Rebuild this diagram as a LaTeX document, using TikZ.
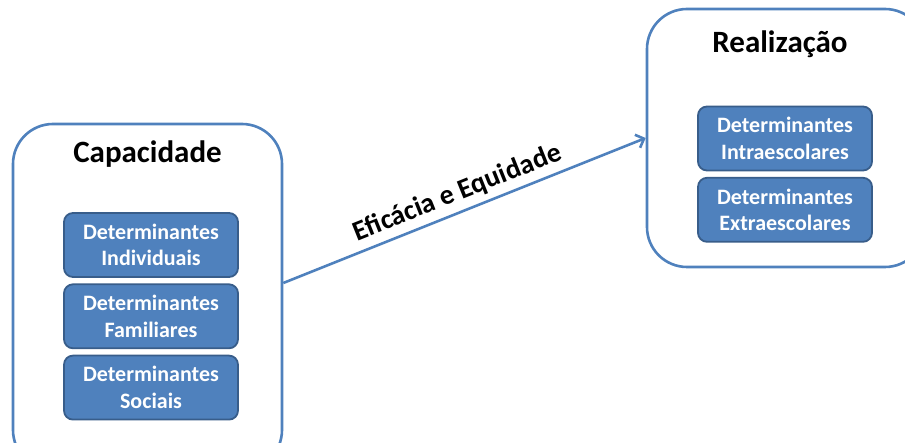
\documentclass[tikz,border=0pt]{standalone}
\usepackage{fontspec}
\setmainfont{Carlito}
\usetikzlibrary{arrows.meta,positioning}
\definecolor{accent}{HTML}{4F81BD}
\definecolor{accentdark}{HTML}{385D8A}

\begin{document}
\begin{tikzpicture}[x=1pt,y=-1pt,>={Straight Barb[length=7pt,width=14pt]},
  frame/.style={draw=accent,line width=2.6pt,rounded corners=40pt,fill=white},
  factor/.style={draw=accentdark,line width=1.8pt,fill=accent,
    rounded corners=9pt,minimum width=174pt,minimum height=64pt,
    inner sep=0pt,text=white,align=center,
    font=\fontsize{22}{26.5}\selectfont\bfseries},
  title/.style={font=\fontsize{31}{36}\selectfont\bfseries}]
  \useasboundingbox (0,0) rectangle (905,443);

  % left block
  \node[frame,minimum width=269pt,minimum height=346pt] (cap) at (147.5,297) {};
  \node[title,anchor=base] (captitle) at (147.5,163) {Capacidade};
  \node[factor] (indiv) at (151,245) {Determinantes\\Individuais};
  \node[factor,below=5.5pt of indiv] (famil) {Determinantes\\Familiares};
  \node[factor,below=5.5pt of famil] (social) {Determinantes\\Sociais};

  % right block
  \node[frame,minimum width=278pt,minimum height=258pt] (real) at (786,138) {};
  \node[title,anchor=base] (realtitle) at (780,53) {Realização};
  \node[factor] (intra) at (785,138.5) {Determinantes\\Intraescolares};
  \node[factor,below=5.5pt of intra] (extra) {Determinantes\\Extraescolares};

  \draw[->,accent,line width=2.6pt] ([yshift=14pt]cap.east) --
    node[sloped,above=2pt,pos=0.5,text=black,
      font=\fontsize{28}{32}\selectfont\bfseries]
    {Eficácia e Equidade} (real.west);
\end{tikzpicture}
\end{document}
